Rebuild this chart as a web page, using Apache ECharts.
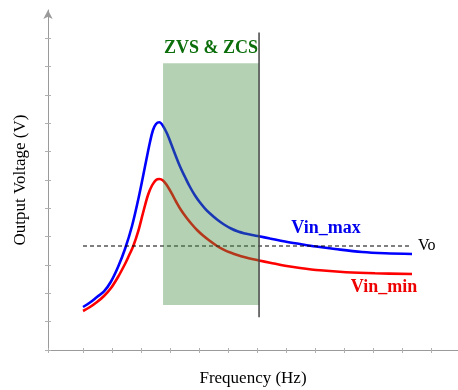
<!DOCTYPE html>
<html>
<head>
<meta charset="utf-8">
<script src="https://cdn.jsdelivr.net/npm/echarts@6/dist/echarts.min.js"></script>
<style>
  html, body { margin: 0; padding: 0; background: #fff; }
  #chart { width: 458px; height: 390px; }
</style>
</head>
<body>
<div id="chart"></div>
<script>
// Gain curves of the resonant converter at maximum and minimum input voltage
const vinMaxFreq = [0, 0.241, 0.483, 0.724, 0.966, 1.207, 1.448, 1.690, 1.931, 2.172, 2.310, 2.414, 2.517, 2.631, 2.759, 2.897, 3.034, 3.172, 3.345, 3.517, 3.690, 3.862, 4.034, 4.207, 4.379, 4.621, 4.862, 5.103, 5.345, 5.586, 5.828, 6.069, 6.448, 6.966, 7.483, 8.034, 8.690, 9.621, 10.414, 11.345];
const vinMaxVolt = [1.518, 1.676, 1.871, 2.065, 2.418, 2.929, 3.565, 4.376, 5.435, 6.653, 7.341, 7.765, 7.976, 8.036, 7.906, 7.641, 7.288, 6.918, 6.476, 6.106, 5.753, 5.453, 5.206, 4.994, 4.818, 4.606, 4.429, 4.288, 4.182, 4.112, 4.059, 4.013, 3.935, 3.829, 3.741, 3.653, 3.565, 3.459, 3.413, 3.388];

const vinMinFreq = [0, 0.241, 0.483, 0.724, 0.966, 1.207, 1.448, 1.586, 1.734, 1.897, 2.069, 2.241, 2.379, 2.517, 2.631, 2.759, 2.897, 3.059, 3.207, 3.379, 3.576, 3.759, 3.931, 4.138, 4.379, 4.621, 4.862, 5.103, 5.345, 5.586, 5.828, 6.069, 6.448, 6.966, 7.483, 8.172, 9.069, 10.069, 11.345];
const vinMinVolt = [1.376, 1.518, 1.694, 1.906, 2.188, 2.576, 3.035, 3.335, 3.671, 4.165, 4.835, 5.471, 5.806, 6.000, 6.035, 5.982, 5.806, 5.524, 5.241, 4.941, 4.659, 4.429, 4.235, 4.041, 3.847, 3.671, 3.536, 3.431, 3.346, 3.275, 3.212, 3.159, 3.081, 2.972, 2.894, 2.813, 2.746, 2.707, 2.682];

// Output voltage target and its frequency span
const voLevel = 3.67;
const voSpan = [0, 11.34];

// Soft-switching region and series resonant frequency
const zoneFreq = [2.76, 6.07];
const zoneVolt = [1.59, 10.12];
const fsr = 6.07;
const fsrVolt = [1.16, 11.21];

// Axis tick positions
const xTicks = [-1.207, 0, 1, 2, 3, 4, 5, 6, 7, 8, 9, 10, 11, 12];
const yTicks = [0, 1, 2, 3, 4, 5, 6, 7, 8, 9, 10, 11];

const pairs = (xs, ys) => xs.map((x, i) => [x, ys[i]]);
const serif = 'Liberation Serif';

const chart = echarts.init(document.getElementById('chart'), null, { renderer: 'canvas' });

const axisGray = '#9a9a9a';
const tickGray = '#b0b0b0';

// Text-only marker placed at a data coordinate
const textMarker = (coord, text, color) => ({
  symbol: 'circle', symbolSize: 1, silent: true,
  itemStyle: { color: 'rgba(0,0,0,0)' },
  label: { show: true, position: 'inside', formatter: text, fontFamily: serif, fontWeight: 'bold', fontSize: 18, color },
  data: [{ coord }]
});

chart.setOption({
  animation: false,
  grid: { left: 48, right: 0, top: 10, bottom: 40, containLabel: false, outerBoundsMode: 'none' },
  xAxis: [
    {
      type: 'value', min: -1.207, max: 12.93,
      name: 'Frequency (Hz)', nameLocation: 'middle', nameGap: 20,
      nameTextStyle: { fontFamily: serif, fontSize: 17, color: '#000' },
      axisLine: { onZero: false, lineStyle: { color: axisGray, width: 1 } },
      axisTick: { show: true, length: 3, customValues: xTicks, lineStyle: { color: tickGray } },
      axisLabel: { show: false },
      splitLine: { show: false }
    },
    {
      type: 'value', min: -1.207, max: 12.93, position: 'bottom',
      axisLine: { show: false, onZero: false },
      axisTick: { show: true, inside: true, length: 2, customValues: xTicks, lineStyle: { color: tickGray } },
      axisLabel: { show: false },
      splitLine: { show: false }
    }
  ],
  yAxis: [
    {
      type: 'value', min: 0, max: 12,
      name: 'Output Voltage (V)', nameLocation: 'middle', nameGap: 19,
      nameTextStyle: { fontFamily: serif, fontSize: 17, color: '#000' },
      axisLine: { onZero: false, lineStyle: { color: axisGray, width: 1 }, symbol: ['none', 'arrow'], symbolSize: [7, 9] },
      axisTick: { show: true, length: 3, customValues: yTicks, lineStyle: { color: tickGray } },
      axisLabel: { show: false },
      splitLine: { show: false }
    },
    {
      type: 'value', min: 0, max: 12, position: 'left',
      axisLine: { show: false, onZero: false },
      axisTick: { show: true, inside: true, length: 3, customValues: yTicks, lineStyle: { color: tickGray } },
      axisLabel: { show: false },
      splitLine: { show: false }
    }
  ],
  series: [
    {
      name: 'Vin_max', type: 'line', z: 2, smooth: 0.35, symbol: 'none',
      data: pairs(vinMaxFreq, vinMaxVolt),
      lineStyle: { color: '#0000ff', width: 2.6 },
      markPoint: textMarker([8.38, 4.31], 'Vin_max', '#0000ee')
    },
    {
      name: 'Vin_min', type: 'line', z: 2, smooth: 0.35, symbol: 'none',
      data: pairs(vinMinFreq, vinMinVolt),
      lineStyle: { color: '#ff0000', width: 2.6 },
      markPoint: textMarker([10.38, 2.22], 'Vin_min', '#ee0000')
    },
    {
      name: 'Vo', type: 'line', z: 2, symbol: 'none',
      data: voSpan.map(f => [f, voLevel]),
      lineStyle: { color: '#000', width: 1.2, type: [4, 3] },
      endLabel: { show: true, formatter: 'Vo', distance: 6, fontFamily: serif, fontSize: 16, color: '#000' }
    },
    {
      name: 'ZVS & ZCS', type: 'line', z: 4, data: [],
      markArea: {
        silent: true, z: 10,
        itemStyle: { color: 'rgba(68,140,68,0.4)' },
        label: { show: true, position: 'top', distance: 6, fontFamily: serif, fontWeight: 'bold', fontSize: 18, color: '#0b6e0b' },
        data: [[
          { name: 'ZVS & ZCS', coord: [zoneFreq[0], zoneVolt[1]] },
          { coord: [zoneFreq[1], zoneVolt[0]] }
        ]]
      }
    },
    {
      name: 'fsr', type: 'line', z: 12, symbol: 'none',
      data: [
        { value: [fsr, fsrVolt[0]], label: { show: true, position: 'bottom', distance: 8, formatter: 'fsr', fontFamily: serif, fontWeight: 'bold', fontSize: 18, color: '#000' } },
        { value: [fsr, fsrVolt[1]] }
      ],
      showSymbol: true, symbolSize: 0,
      lineStyle: { color: '#444', width: 1.5 }
    }
  ]
});
</script>
</body>
</html>
